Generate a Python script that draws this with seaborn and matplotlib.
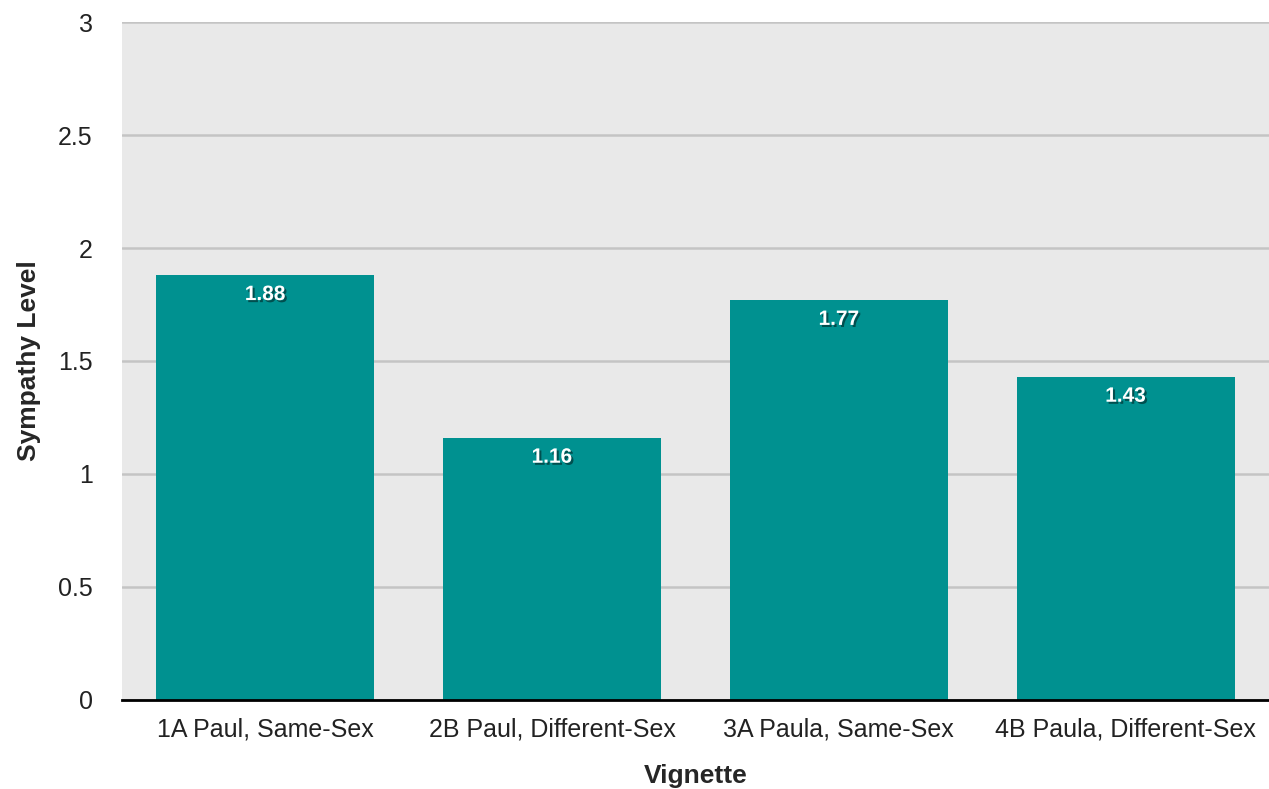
import matplotlib
matplotlib.use("Agg")
import matplotlib.pyplot as plt
import matplotlib.patheffects as pe
import pandas as pd
import seaborn as sns

# chart data
vignettes = ["1A Paul, Same-Sex", "2B Paul, Different-Sex",
             "3A Paula, Same-Sex", "4B Paula, Different-Sex"]
sympathy = [1.88, 1.16, 1.77, 1.43]
y_ticks = [0, 0.5, 1, 1.5, 2, 2.5, 3]
y_tick_labels = ["0", "0.5", "1", "1.5", "2", "2.5", "3"]

df = pd.DataFrame({"Vignette": vignettes, "Sympathy Level": sympathy})

sns.set_style("white")
plt.rcParams['font.family'] = ['Liberation Sans', 'DejaVu Sans']

fig = plt.figure(figsize=(12.69, 7.89), dpi=100)
ax = fig.add_axes([0.096, 0.113, 0.904, 0.859])
ax.set_facecolor("#e9e9e9")

sns.barplot(data=df, x="Vignette", y="Sympathy Level", color="#009190",
            saturation=1, width=0.76, ax=ax, zorder=3, linewidth=0,
            edgecolor="none")

ax.set_ylim(0, 3)
ax.set_xlim(-0.5, 3.5)
ax.set_yticks(y_ticks)
ax.set_yticklabels(y_tick_labels)
ax.yaxis.grid(True, color="#c4c4c4", linewidth=1.8, zorder=0)
ax.set_axisbelow(True)

for s in ["left", "right", "top"]:
    ax.spines[s].set_visible(False)
ax.spines["bottom"].set_color("black")
ax.spines["bottom"].set_linewidth(2)
ax.spines["bottom"].set_zorder(5)

ax.tick_params(axis="y", length=0, pad=21, labelsize=18, labelcolor="#222222")
ax.tick_params(axis="x", length=0, pad=13, labelsize=18, labelcolor="#222222")

ax.set_xlabel("Vignette", fontsize=19, fontweight="bold", labelpad=16)
ax.set_ylabel("Sympathy Level", fontsize=19, fontweight="bold", labelpad=12)

# value labels inside bars
for i, v in enumerate(sympathy):
    ax.annotate(f"{v:.2f}", xy=(i, v), xytext=(0, -14), textcoords="offset points",
                ha="center", va="center", color="white", fontsize=15,
                fontweight="bold", zorder=6,
                path_effects=[pe.withSimplePatchShadow(offset=(1.5, -1.5),
                                                       shadow_rgbFace="black",
                                                       alpha=0.45)])

fig.savefig("out.png", dpi=100)
